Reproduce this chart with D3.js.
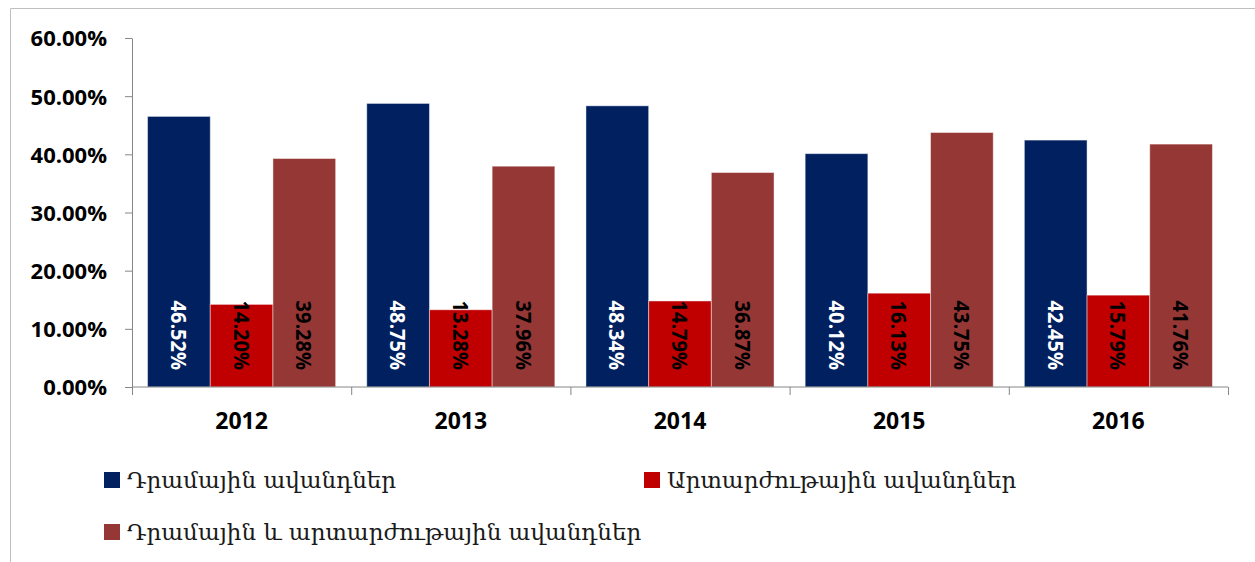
<!DOCTYPE html>
<html>
<head>
<meta charset="utf-8">
<script src="https://cdn.jsdelivr.net/npm/d3@7"></script>
<style>
  body { margin: 0; background: #fff; }
  .num { font-family: "Open Sans", "Liberation Sans", sans-serif; font-weight: bold; }
  .leg { font-family: "DejaVu Serif", serif; fill: #1a1a1a; }
</style>
</head>
<body>
<div class="chart"></div>
<script>
var years = ["2012", "2013", "2014", "2015", "2016"];
var seriesNames = ["Դրամային ավանդներ", "Արտարժութային ավանդներ", "Դրամային և արտարժութային ավանդներ"];
var dramDeposits = [46.52, 48.75, 48.34, 40.12, 42.45];
var fxDeposits = [14.20, 13.28, 14.79, 16.13, 15.79];
var allDeposits = [39.28, 37.96, 36.87, 43.75, 41.76];
var yTicks = [0, 10, 20, 30, 40, 50, 60];
var colors = ["#002060", "#C00000", "#953735"];
var labelColors = ["#ffffff", "#000000", "#000000"];

var svgWidth = 1255;
var svgHeight = 562;
var barStretch = 1.1; // value labels are a little wider than the font

var margin = { top: 38, right: 27, bottom: 175, left: 132 };
var width = svgWidth - margin.left - margin.right;
var height = svgHeight - margin.top - margin.bottom;

var svg = d3.select(".chart")
  .append("svg")
  .attr("width", svgWidth)
  .attr("height", svgHeight);

// outer frame (only top and left are visible)
svg.append("path")
  .attr("d", "M10.5,562 V8.5 H1255")
  .attr("fill", "none")
  .attr("stroke", "#bfbfbf");

var chartGroup = svg.append("g")
  .attr("transform", `translate(${margin.left}, ${margin.top})`);

var table = years.map(function(y, i) {
  return { year: y, values: [dramDeposits[i], fxDeposits[i], allDeposits[i]] };
});

var x0 = d3.scaleBand()
  .domain(years)
  .range([0, width])
  .paddingInner(0.142)
  .paddingOuter(0.071);

var x1 = d3.scaleBand()
  .domain([0, 1, 2])
  .range([0, x0.bandwidth()]);

var yLinearScale = d3.scaleLinear()
  .domain([0, 60])
  .range([height, 0]);

// y axis
var leftAxis = d3.axisLeft(yLinearScale)
  .tickValues(yTicks)
  .tickSize(7)
  .tickSizeOuter(0)
  .tickFormat(d => d.toFixed(2) + "%");

var yAxis = chartGroup.append("g").call(leftAxis);
yAxis.select(".domain").attr("stroke", "#868686");
yAxis.selectAll(".tick line").attr("stroke", "#868686");
yAxis.selectAll(".tick text")
  .attr("class", "num")
  .attr("font-size", 22)
  .attr("fill", "#000")
  .attr("x", -25)
  .attr("dy", "0.36em");

// bars
var groups = chartGroup.selectAll(".yr")
  .data(table)
  .enter()
  .append("g")
  .attr("class", "yr")
  .attr("transform", d => `translate(${x0(d.year)},0)`);

groups.selectAll("rect")
  .data(d => d.values)
  .enter()
  .append("rect")
  .attr("x", (d, i) => x1(i))
  .attr("y", d => yLinearScale(d))
  .attr("width", x1.bandwidth())
  .attr("height", d => height - yLinearScale(d))
  .attr("fill", (d, i) => colors[i])
  .attr("stroke", "#ffffff")
  .attr("stroke-opacity", 0.45)
  .attr("stroke-width", 1);

groups.selectAll(".lbl")
  .data(d => d.values)
  .enter()
  .append("text")
  .attr("class", "num lbl")
  .attr("font-size", 20)
  .attr("fill", (d, i) => labelColors[i])
  .attr("text-anchor", "end")
  .attr("dy", "0.36em")
  .attr("transform", (d, i) => `translate(${x1(i) + x1.bandwidth() / 2}, ${height - 17}) scale(${barStretch},1) rotate(90)`)
  .text(d => d.toFixed(2) + "%");

// x axis
var xAxis = chartGroup.append("g")
  .attr("transform", `translate(0, ${height})`);

xAxis.append("line")
  .attr("x1", 0).attr("x2", width)
  .attr("stroke", "#868686");

xAxis.selectAll(".sep")
  .data(d3.range(years.length + 1))
  .enter()
  .append("line")
  .attr("x1", i => i * x0.step() + 0.5)
  .attr("x2", i => i * x0.step() + 0.5)
  .attr("y1", 0).attr("y2", 8)
  .attr("stroke", "#868686");

xAxis.selectAll(".cat")
  .data(years)
  .enter()
  .append("text")
  .attr("class", "num cat")
  .attr("font-size", 23)
  .attr("fill", "#000")
  .attr("text-anchor", "middle")
  .attr("x", d => x0(d) + x0.bandwidth() / 2)
  .attr("y", 42)
  .text(d => d);

// legend
var legendPos = [[104, 472], [644, 472], [104, 524]];
var legend = svg.selectAll(".legItem")
  .data(seriesNames)
  .enter()
  .append("g")
  .attr("class", "legItem")
  .attr("transform", (d, i) => `translate(${legendPos[i][0]}, ${legendPos[i][1]})`);

legend.append("rect")
  .attr("x", 0).attr("y", 0)
  .attr("width", 16).attr("height", 16)
  .attr("fill", (d, i) => colors[i]);

legend.append("text")
  .attr("class", "leg")
  .attr("x", 23)
  .attr("y", 16)
  .attr("font-size", 23)
  .text(d => d);
</script>
</body>
</html>
